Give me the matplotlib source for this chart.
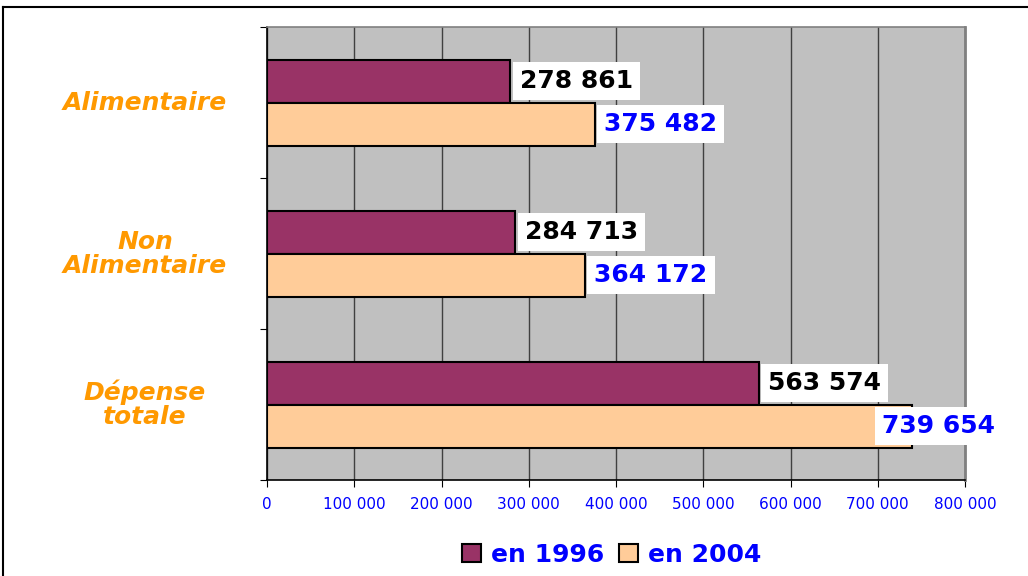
import matplotlib
matplotlib.use("Agg")
import matplotlib.pyplot as plt
from matplotlib.patches import Patch
from matplotlib.lines import Line2D
from matplotlib.ticker import FuncFormatter

categories = ["Alimentaire", "Non\nAlimentaire", "Dépense\ntotale"]
values_1996 = [278861, 284713, 563574]
values_2004 = [375482, 364172, 739654]
series_names = ["en 1996", "en 2004"]
xticks = [0, 100000, 200000, 300000, 400000, 500000, 600000, 700000, 800000]

c1996 = "#993366"
c2004 = "#FFCC99"
gray = "#C0C0C0"
orange = "#FF9900"
blue = "#0000FF"

plt.rcParams['font.family'] = ['DejaVu Sans']

fig = plt.figure(figsize=(10.28, 5.76), dpi=100)
ax = fig.add_axes([267/1028, 96/576, (965-267)/1028, (480-27)/576])
ax.set_facecolor(gray)

h = 43/151
ypos = list(range(len(categories)))
ax.barh([y - h/2 for y in ypos], values_1996, height=h, color=c1996,
        edgecolor="black", linewidth=1.5, zorder=3)
ax.barh([y + h/2 for y in ypos], values_2004, height=h, color=c2004,
        edgecolor="black", linewidth=1.5, zorder=3)

ax.set_xlim(0, 800000)
ax.set_ylim(len(categories) - 0.5, -0.5)
ax.set_xticks(xticks)
ax.xaxis.set_major_formatter(FuncFormatter(lambda v, p: f"{int(v):,}".replace(",", " ")))
ax.tick_params(axis='x', colors='black', labelcolor=blue, labelsize=11, length=5,
               direction='out', pad=7)
ax.set_yticks([y - 0.5 for y in ypos] + [len(categories) - 0.5])
ax.set_yticklabels([])
ax.tick_params(axis='y', length=5, direction='out')
ax.grid(axis='x', color='#404040', linewidth=1, zorder=1)
ax.set_axisbelow(True)
for s in ['left', 'bottom']:
    ax.spines[s].set_color('black')
    ax.spines[s].set_linewidth(1.2)
ax.spines['top'].set_color('#808080')
ax.spines['top'].set_linewidth(1.2)
ax.spines['right'].set_color('#808080')
ax.spines['right'].set_linewidth(2)

# category labels
for y, cat in zip(ypos, categories):
    ax.text(-0.175, y, cat, transform=ax.get_yaxis_transform(), ha='center', va='center',
            color=orange, fontsize=18, fontweight='bold', fontstyle='oblique',
            linespacing=1.0)

# value labels
fmt = lambda v: f"{v:,}".replace(",", " ")
box = dict(facecolor='white', edgecolor='none', pad=5)
for y, v in zip(ypos, values_1996):
    ax.annotate(fmt(v), (v, y - h/2), xytext=(7, 0), textcoords='offset points',
                ha='left', va='center', fontsize=18, fontweight='bold', color='black',
                bbox=box, zorder=5, annotation_clip=False)
for y, v in zip(ypos, values_2004):
    off = 7 if v < 700000 else -22
    ax.annotate(fmt(v), (v, y + h/2), xytext=(off, 0), textcoords='offset points',
                ha='left', va='center', fontsize=18, fontweight='bold', color=blue,
                bbox=box, zorder=5, annotation_clip=False)

handles = [Patch(facecolor=c1996, edgecolor='black', linewidth=1.5),
           Patch(facecolor=c2004, edgecolor='black', linewidth=1.5)]
leg = fig.legend(handles, series_names, loc='center', bbox_to_anchor=(612/1028, 1 - 555/576),
                 ncol=2, frameon=False, handlelength=0.75, handleheight=0.75,
                 handletextpad=0.4, columnspacing=0.6,
                 prop={'size': 18, 'weight': 'bold'})
for t in leg.get_texts():
    t.set_color(blue)

# figure border (top and left)
fig.add_artist(Line2D([3/1028, 3/1028], [0, 1 - 7/576], color='black', linewidth=1.5,
                      transform=fig.transFigure))
fig.add_artist(Line2D([3/1028, 1], [1 - 7/576, 1 - 7/576], color='black', linewidth=1.5,
                      transform=fig.transFigure))

fig.savefig("out.png", dpi=100, facecolor='white')
